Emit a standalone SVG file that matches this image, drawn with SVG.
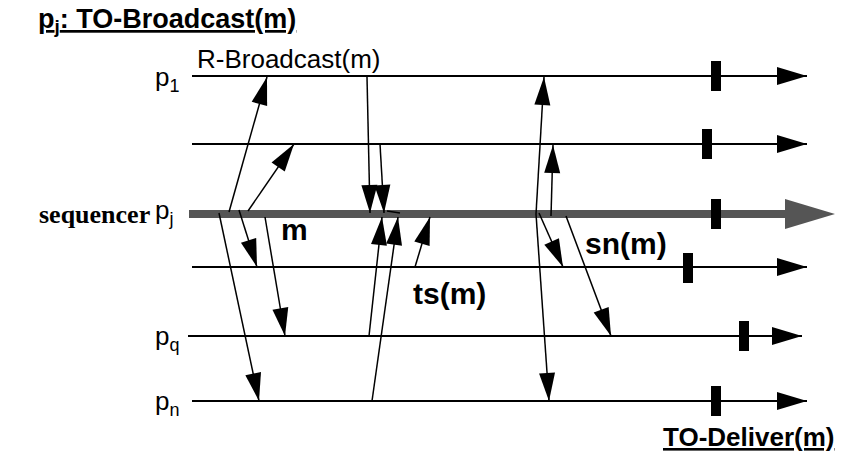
<svg xmlns="http://www.w3.org/2000/svg" width="843" height="455" viewBox="0 0 843 455">
<defs>
<style>
.lbl{font-family:"Liberation Sans",Arial,sans-serif;font-size:26px;fill:#000}
.bold{font-family:"Liberation Sans",Arial,sans-serif;font-weight:bold;fill:#000}
.ul{text-decoration:underline}
.proc{stroke:#000;stroke-width:2;fill:none}
.msg{stroke:#000;stroke-width:1.5;fill:none;marker-end:url(#ah)}
.mark{fill:#000}
</style>
<marker id="ah" markerUnits="userSpaceOnUse" markerWidth="30" markerHeight="18" refX="28" refY="8" orient="auto" overflow="visible">
<path d="M0,0 L28,8 L0,16 z" fill="#000"/>
</marker>
<marker id="hh" markerUnits="userSpaceOnUse" markerWidth="32" markerHeight="20" refX="30" refY="9" orient="auto" overflow="visible">
<path d="M0,0 L30,9 L0,18 z" fill="#000"/>
</marker>
</defs>
<rect width="843" height="455" fill="#fff"/>

<text class="bold ul" x="38" y="28" font-size="27">p<tspan font-size="19" dy="5">j</tspan><tspan dy="-5">: TO-Broadcast(m)</tspan></text>

<g id="p1">
<line class="proc" x1="192" y1="76" x2="807" y2="76" marker-end="url(#hh)"/>
<text class="lbl" x="155" y="86">p<tspan font-size="18" dy="6">1</tspan></text>
<rect class="mark" x="711" y="61" width="10" height="30"/>
</g>
<g id="p2">
<line class="proc" x1="192" y1="144" x2="807" y2="144" marker-end="url(#hh)"/>
<rect class="mark" x="702" y="129" width="10" height="30"/>
</g>
<g id="pj">
<line x1="189" y1="214" x2="787" y2="214" stroke="#555" stroke-width="8"/>
<polygon points="785,199 835,214 785,229" fill="#555"/>
<text x="39" y="223" font-family="'Liberation Serif','Times New Roman',serif" font-weight="bold" font-size="26">sequencer</text>
<text class="lbl" x="155" y="219">p<tspan font-size="18" dy="6">j</tspan></text>
<rect class="mark" x="711" y="199" width="10" height="30"/>
</g>
<g id="p4">
<line class="proc" x1="192" y1="267" x2="807" y2="267" marker-end="url(#hh)"/>
<rect class="mark" x="683" y="253" width="10" height="30"/>
</g>
<g id="pq">
<line class="proc" x1="188" y1="336" x2="802" y2="336" marker-end="url(#hh)"/>
<text class="lbl" x="155" y="345">p<tspan font-size="18" dy="6">q</tspan></text>
<rect class="mark" x="739" y="321" width="10" height="30"/>
</g>
<g id="pn">
<line class="proc" x1="192" y1="401" x2="807" y2="401" marker-end="url(#hh)"/>
<text class="lbl" x="155" y="410">p<tspan font-size="18" dy="6">n</tspan></text>
<rect class="mark" x="711" y="386" width="10" height="30"/>
</g>

<g id="connectors">
<line class="msg" x1="229" y1="212" x2="267" y2="77"/>
<line class="msg" x1="219" y1="213" x2="259" y2="401"/>
<line class="msg" x1="248" y1="211" x2="294" y2="144"/>
<line class="msg" x1="239" y1="210" x2="257" y2="267"/>
<line class="msg" x1="265" y1="217" x2="285" y2="336"/>

<line class="msg" x1="367" y1="77" x2="370" y2="213"/>
<line class="msg" x1="380" y1="144" x2="384" y2="213"/>
<line class="msg" x1="369" y1="336" x2="382" y2="217"/>
<line class="msg" x1="372" y1="401" x2="398" y2="217"/>
<line class="msg" x1="415" y1="267" x2="430" y2="217"/>
<line x1="387" y1="211" x2="400" y2="213" stroke="#000" stroke-width="1.5"/>

<line class="msg" x1="536" y1="214" x2="544" y2="77"/>
<line class="msg" x1="536" y1="214" x2="549" y2="401"/>
<line class="msg" x1="551" y1="216" x2="553" y2="145"/>
<line class="msg" x1="539" y1="213" x2="563" y2="267"/>
<line class="msg" x1="566" y1="216" x2="611" y2="336"/>
</g>

<g id="labels">
<text class="lbl" x="197" y="68">R-Broadcast(m)</text>
<text class="bold" x="281" y="240" font-size="30">m</text>
<text class="bold" x="413" y="304" font-size="30">ts(m)</text>
<text class="bold" x="585" y="254" font-size="30">sn(m)</text>
<text class="bold ul" x="663" y="446" font-size="26">TO-Deliver(m)</text>
</g>
</svg>
